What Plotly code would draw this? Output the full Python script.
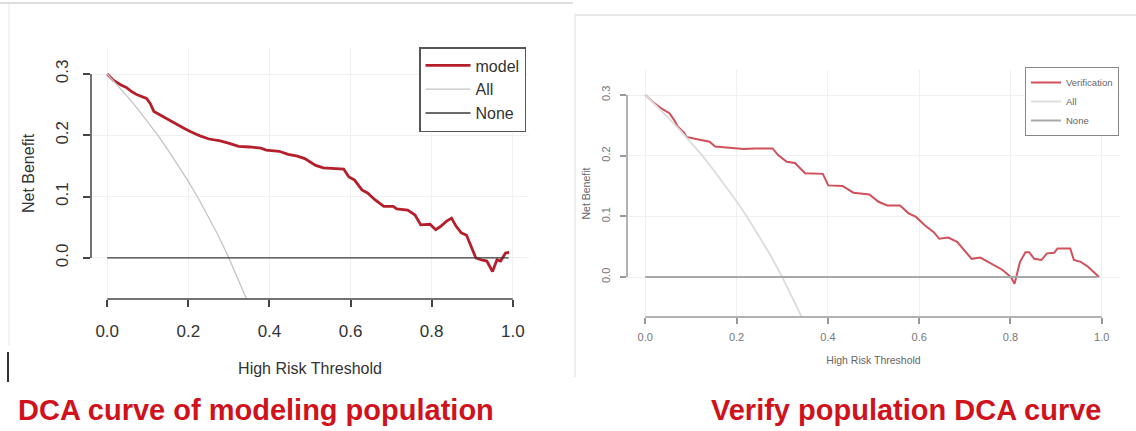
import plotly.graph_objects as go

# ---------------- data ----------------
model_x = [0.0, 0.015, 0.034, 0.047, 0.061, 0.074, 0.097, 0.106, 0.115, 0.133, 0.152, 0.170,
           0.188, 0.206, 0.229, 0.251, 0.279, 0.301, 0.324, 0.351, 0.379, 0.392, 0.424, 0.446,
           0.469, 0.487, 0.514, 0.533, 0.560, 0.583, 0.596, 0.610, 0.628, 0.642, 0.660, 0.682,
           0.705, 0.714, 0.741, 0.759, 0.773, 0.796, 0.810, 0.823, 0.837, 0.849, 0.860, 0.873,
           0.886, 0.896, 0.909, 0.923, 0.936, 0.950, 0.961, 0.970, 0.982, 0.991]
model_y = [0.300, 0.290, 0.282, 0.278, 0.271, 0.266, 0.260, 0.252, 0.239, 0.232, 0.225, 0.219,
           0.212, 0.206, 0.199, 0.194, 0.191, 0.187, 0.182, 0.181, 0.179, 0.176, 0.174, 0.169,
           0.166, 0.162, 0.151, 0.147, 0.146, 0.145, 0.132, 0.127, 0.111, 0.106, 0.095, 0.084,
           0.084, 0.080, 0.078, 0.070, 0.054, 0.055, 0.046, 0.052, 0.060, 0.065, 0.052, 0.041,
           0.037, 0.022, 0.000, -0.003, -0.005, -0.022, -0.003, -0.005, 0.008, 0.009]

ver_x = [0.0, 0.016, 0.035, 0.053, 0.063, 0.071, 0.086, 0.090, 0.114, 0.141, 0.153, 0.177,
         0.216, 0.240, 0.279, 0.291, 0.310, 0.328, 0.350, 0.389, 0.401, 0.432, 0.456, 0.491,
         0.511, 0.530, 0.558, 0.577, 0.593, 0.613, 0.632, 0.644, 0.664, 0.683, 0.699, 0.715,
         0.734, 0.758, 0.782, 0.801, 0.809, 0.821, 0.833, 0.841, 0.852, 0.868, 0.880, 0.896,
         0.903, 0.931, 0.939, 0.954, 0.970, 0.994]
ver_y = [0.300, 0.289, 0.278, 0.270, 0.259, 0.248, 0.237, 0.231, 0.227, 0.223, 0.215, 0.213,
         0.211, 0.212, 0.212, 0.201, 0.190, 0.188, 0.171, 0.170, 0.151, 0.150, 0.139, 0.136,
         0.124, 0.118, 0.118, 0.105, 0.099, 0.085, 0.074, 0.063, 0.065, 0.058, 0.044, 0.030,
         0.032, 0.022, 0.012, 0.000, -0.011, 0.025, 0.041, 0.041, 0.030, 0.028, 0.039, 0.040,
         0.047, 0.047, 0.028, 0.025, 0.017, 0.000]

all_x = [0.0, 0.025, 0.05, 0.075, 0.10, 0.125, 0.15, 0.175, 0.20, 0.225, 0.25, 0.275, 0.30,
         0.325, 0.35]
all_y = [0.300, 0.282, 0.263, 0.243, 0.222, 0.200, 0.176, 0.151, 0.125, 0.097, 0.067, 0.035,
         0.000, -0.037, -0.077]

none_x = [0.0, 0.99]
none_y = [0.0, 0.0]

x_ticks = [0.0, 0.2, 0.4, 0.6, 0.8, 1.0]
x_tick_labels = ["0.0", "0.2", "0.4", "0.6", "0.8", "1.0"]
y_ticks = [0.0, 0.1, 0.2, 0.3]
y_tick_labels = ["0.0", "0.1", "0.2", "0.3"]

left_title = "DCA curve of modeling population"
right_title = "Verify population DCA curve"
x_title = "High Risk Threshold"
y_title = "Net Benefit"

W, H = 1136, 431
FONT = "Liberation Sans, Arial, sans-serif"


def px(v):
    return v / W


def py(v):
    return 1 - v / H


fig = go.Figure()

# left panel
fig.add_trace(go.Scatter(x=model_x, y=model_y, name="model", mode="lines",
                         line=dict(color="#b51f2c", width=2.8), xaxis="x", yaxis="y",
                         legend="legend"))
fig.add_trace(go.Scatter(x=all_x, y=all_y, name="All", mode="lines",
                         line=dict(color="#c4c4c4", width=1.3), xaxis="x", yaxis="y",
                         legend="legend"))
fig.add_trace(go.Scatter(x=none_x, y=none_y, name="None", mode="lines",
                         line=dict(color="#3a3a3a", width=1.3), xaxis="x", yaxis="y",
                         legend="legend"))

# right panel
fig.add_trace(go.Scatter(x=ver_x, y=ver_y, name="Verification", mode="lines",
                         line=dict(color="#d0505c", width=2), xaxis="x2", yaxis="y2",
                         legend="legend2"))
fig.add_trace(go.Scatter(x=all_x, y=all_y, name="All", mode="lines",
                         line=dict(color="#dcdcdc", width=1.8), xaxis="x2", yaxis="y2",
                         legend="legend2"))
fig.add_trace(go.Scatter(x=none_x, y=none_y, name="None", mode="lines",
                         line=dict(color="#a8a8a8", width=2), xaxis="x2", yaxis="y2",
                         legend="legend2"))

grid = "#f0f0f0"

common_x = dict(range=[-0.04, 1.04], tickvals=x_ticks, ticktext=x_tick_labels,
                ticks="outside", showline=False, zeroline=False, showgrid=True,
                gridcolor=grid, gridwidth=1, fixedrange=True)
common_y = dict(tickvals=y_ticks, ticktext=y_tick_labels, ticks="outside",
                showline=False, zeroline=False, showgrid=True, gridcolor=grid,
                gridwidth=1, tickangle=-90, fixedrange=True)

fig.update_layout(
    width=W, height=H, margin=dict(l=0, r=0, t=0, b=0),
    paper_bgcolor="white", plot_bgcolor="white",
    font=dict(family=FONT),
    xaxis=dict(common_x, domain=[px(91), px(529)], anchor="y",
               ticklen=7, tickwidth=1.5, tickcolor="#444",
               tickfont=dict(size=17, color="#333"), ticklabelstandoff=10,
               title=dict(text=x_title, font=dict(size=16, color="#333"), standoff=22)),
    yaxis=dict(common_y, domain=[py(299), py(48)], range=[-0.0669, 0.3424], anchor="x",
               ticklen=7, tickwidth=1.5, tickcolor="#444",
               tickfont=dict(size=17, color="#333"), ticklabelstandoff=8,
               title=dict(text=y_title, font=dict(size=16, color="#333"), standoff=14)),
    xaxis2=dict(common_x, domain=[px(627), px(1120)], anchor="y2",
                ticklen=6, tickwidth=1.5, tickcolor="#999",
                tickfont=dict(size=11, color="#777"), ticklabelstandoff=4,
                title=dict(text=x_title, font=dict(size=10.5, color="#666"), standoff=14),),
    yaxis2=dict(common_y, domain=[py(317), py(70)], range=[-0.0659, 0.3412], anchor="x2",
                ticklen=6, tickwidth=1.5, tickcolor="#999",
                tickfont=dict(size=11, color="#777"), ticklabelstandoff=6,
                title=dict(text=y_title, font=dict(size=10.5, color="#666"), standoff=6)),
    legend=dict(x=px(419), y=py(47), xanchor="left", yanchor="top",
                bgcolor="white", bordercolor="#555", borderwidth=1.5,
                font=dict(size=16, color="#333"), tracegroupgap=0, itemwidth=45),
    legend2=dict(x=px(1025), y=py(67), xanchor="left", yanchor="top",
                 bgcolor="white", bordercolor="#888", borderwidth=1,
                 font=dict(size=9.5, color="#666"), tracegroupgap=0),
    showlegend=True,
)

# R-style detached axis lines (span tick range only)
shapes = [
    dict(type="line", xref="x", yref="y domain", x0=0, x1=1, y0=0, y1=0,
         line=dict(color="#444", width=1.5)),
    dict(type="line", xref="x domain", yref="y", x0=0, x1=0, y0=0, y1=0.3,
         line=dict(color="#444", width=1.5)),
    dict(type="line", xref="x2", yref="y2 domain", x0=0, x1=1, y0=0, y1=0,
         line=dict(color="#999", width=1.5)),
    dict(type="line", xref="x2 domain", yref="y2", x0=0, x1=0, y0=0, y1=0.3,
         line=dict(color="#999", width=1.5)),
    # screenshot frame remnants
    dict(type="line", xref="paper", yref="paper", x0=0, x1=px(573), y0=py(3), y1=py(3),
         line=dict(color="#dedede", width=2), layer="below"),
    dict(type="line", xref="paper", yref="paper", x0=px(9), x1=px(9), y0=py(3), y1=py(345),
         line=dict(color="#e6e6e6", width=1), layer="below"),
    dict(type="line", xref="paper", yref="paper", x0=px(8), x1=px(8), y0=py(352), y1=py(382),
         line=dict(color="#333", width=2), layer="below"),
    dict(type="line", xref="paper", yref="paper", x0=px(574), x1=1, y0=py(15), y1=py(15),
         line=dict(color="#e8e8e8", width=2), layer="below"),
    dict(type="line", xref="paper", yref="paper", x0=px(575), x1=px(575), y0=py(15), y1=py(377),
         line=dict(color="#eeeeee", width=2), layer="below"),
]
fig.update_layout(shapes=shapes)

fig.add_annotation(text="<b>" + left_title + "</b>", xref="paper", yref="paper",
                   x=px(16), y=py(410), xanchor="left", yanchor="middle", showarrow=False,
                   font=dict(family=FONT, size=29, color="#d0121c"))
fig.add_annotation(text="<b>" + right_title + "</b>", xref="paper", yref="paper",
                   x=px(1104), y=py(410), xanchor="right", yanchor="middle", showarrow=False,
                   font=dict(family=FONT, size=29, color="#d0121c"))

fig.write_html("out.html")
